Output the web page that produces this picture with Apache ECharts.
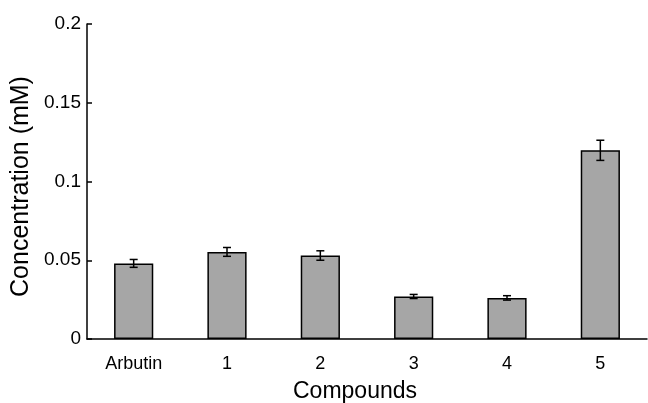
<!DOCTYPE html>
<html>
<head>
<meta charset="utf-8">
<script src="https://cdn.jsdelivr.net/npm/echarts@6/dist/echarts.min.js"></script>
<style>html,body{margin:0;padding:0;background:#fff}#c{width:648px;height:403px}</style>
</head>
<body>
<div id="c"></div>
<script>
var categories = ['Arbutin', '1', '2', '3', '4', '5'];
var values = [0.048, 0.0553, 0.053, 0.027, 0.0261, 0.1198];
var errors = [0.0025, 0.0028, 0.003, 0.0013, 0.0014, 0.0064];
var yTicks = [0, 0.05, 0.1, 0.15, 0.2];

var chart = echarts.init(document.getElementById('c'));
var font = 'Liberation Sans, Arial, sans-serif';
chart.setOption({
  animation: false,
  grid: {left: 87, right: 1, top: 24, bottom: 64, outerBoundsMode: 'none', containLabel: false},
  xAxis: {
    type: 'category',
    data: categories,
    name: 'Compounds',
    nameLocation: 'middle',
    nameGap: 41,
    nameTextStyle: {fontFamily: font, fontSize: 23, color: '#000', padding: [0, 24, 0, 0]},
    axisLine: {lineStyle: {color: '#000', width: 1.5}},
    axisTick: {inside: true, length: 5, lineStyle: {color: '#000', width: 1.5}},
    axisLabel: {fontFamily: font, fontSize: 18, color: '#000', margin: 16}
  },
  yAxis: {
    type: 'value',
    min: 0, max: 0.2, interval: 0.05,
    name: 'Concentration (mM)',
    nameLocation: 'middle',
    nameGap: 47,
    nameTextStyle: {fontFamily: font, fontSize: 25, color: '#000', padding: [0, 10, 0, 0]},
    splitLine: {show: false},
    axisLine: {show: true, lineStyle: {color: '#000', width: 1.5}},
    axisTick: {show: true, inside: true, length: 5, lineStyle: {color: '#000', width: 1.5}},
    axisLabel: {fontFamily: font, fontSize: 19, color: '#000', margin: 6,
      formatter: function (v) { return yTicks.indexOf(v) >= 0 ? String(v) : ''; }}
  },
  series: [{
    type: 'bar',
    data: values,
    barWidth: '42%',
    itemStyle: {color: '#a6a6a6', borderColor: '#000', borderWidth: 1.5}
  }, {
    type: 'custom',
    data: values.map(function (v, i) { return [i, v - errors[i], v + errors[i]]; }),
    renderItem: function (params, api) {
      var lo = api.coord([api.value(0), api.value(1)]);
      var hi = api.coord([api.value(0), api.value(2)]);
      var w = 4;
      var st = {stroke: '#000', lineWidth: 1.5};
      return {type: 'group', children: [
        {type: 'line', shape: {x1: lo[0], y1: lo[1], x2: hi[0], y2: hi[1]}, style: st},
        {type: 'line', shape: {x1: lo[0] - w, y1: lo[1], x2: lo[0] + w, y2: lo[1]}, style: st},
        {type: 'line', shape: {x1: hi[0] - w, y1: hi[1], x2: hi[0] + w, y2: hi[1]}, style: st}
      ]};
    },
    z: 10
  }]
});
</script>
</body>
</html>
